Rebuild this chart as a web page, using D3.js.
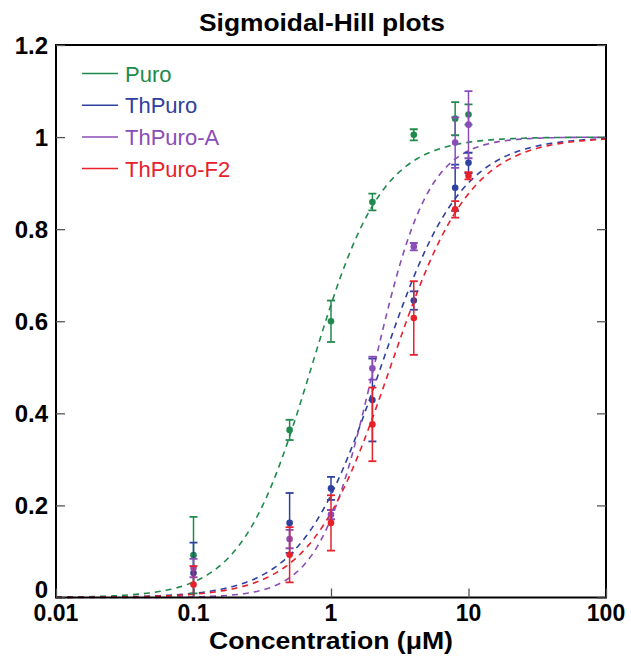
<!DOCTYPE html>
<html><head><meta charset="utf-8">
<script src="https://cdn.jsdelivr.net/npm/d3@7"></script>
<style>body{margin:0;background:#fff}svg{display:block}text{font-family:"Liberation Sans",Arial,sans-serif}</style>
</head><body><svg id="c" width="631" height="657"></svg>
<script>
const seriesNames = ["Puro","ThPuro","ThPuro-A","ThPuro-F2"];
const seriesColors = ["#1e8b4c","#2e40a0","#8a4cb8","#e8202a"];
const concentrations = [0.1,0.5,1,2,4,8,10];
const puroMean   = [0.092,0.364,0.600,0.859,1.005,1.040,1.049];
const puroErr    = [0.083,0.022,0.045,0.018,0.012,0.036,0.022];
const thPuroMean = [0.053,0.162,0.237,0.429,0.645,0.890,0.944];
const thPuroErr  = [0.066,0.065,0.025,0.090,0.020,0.050,0.022];
const thPuroAMean= [0.064,0.127,0.180,0.498,0.762,0.988,1.027];
const thPuroAErr = [0.020,0.020,0.010,0.025,0.008,0.055,0.073];
const thPuroF2Mean=[0.028,0.093,0.162,0.376,0.607,0.843,0.916];
const thPuroF2Err =[0.040,0.060,0.060,0.080,0.080,0.018,0.008];
// Hill fit parameters (EC50 in µM, Hill slope)
const fitEC50 = [0.72,2.3,2.05,2.7];
const fitHill = [1.7,1.5,2.2,1.5];
const xTicks = [0.01,0.1,1,10,100];
const yTicks = [0,0.2,0.4,0.6,0.8,1,1.2];

const means=[puroMean,thPuroMean,thPuroAMean,thPuroF2Mean];
const errs=[puroErr,thPuroErr,thPuroAErr,thPuroF2Err];

const svg=d3.select("#c");
const L=56,R=606,T=45,B=597.5;
const x=d3.scaleLog().domain([0.01,100]).range([L,R]);
const y=d3.scaleLinear().domain([0,1.2]).range([B,T]);

svg.append("text").attr("x",322).attr("y",31).attr("text-anchor","middle")
  .attr("font-size",24).attr("font-weight","bold").attr("textLength",246).attr("lengthAdjust","spacingAndGlyphs")
  .text("Sigmoidal-Hill plots");

// fit curves
const curveX=d3.range(-2,2.0001,0.02).map(e=>Math.pow(10,e));
const line=d3.line().x(d=>x(d[0])).y(d=>y(d[1]));
seriesNames.forEach((s,i)=>{
  const pts=curveX.map(c=>[c,Math.pow(c,fitHill[i])/(Math.pow(fitEC50[i],fitHill[i])+Math.pow(c,fitHill[i]))]);
  svg.append("path").datum(pts).attr("d",line).attr("fill","none")
    .attr("stroke",seriesColors[i]).attr("stroke-width",1.6).attr("stroke-dasharray","6,5");
});

// error bars and points
svg.append("clipPath").attr("id","clip").append("rect").attr("x",L).attr("y",T).attr("width",R-L).attr("height",B-T);
seriesNames.forEach((s,i)=>{
  const g=svg.append("g").attr("clip-path","url(#clip)");
  concentrations.forEach((c,j)=>{
    const cx=x(c),m=means[i][j],e=errs[i][j];
    g.append("line").attr("x1",cx).attr("x2",cx).attr("y1",y(m-e)).attr("y2",y(m+e))
      .attr("stroke",seriesColors[i]).attr("stroke-width",1.5);
    [m-e,m+e].forEach(v=>g.append("line").attr("x1",cx-4).attr("x2",cx+4).attr("y1",y(v)).attr("y2",y(v))
      .attr("stroke",seriesColors[i]).attr("stroke-width",1.8));
    g.append("circle").attr("cx",cx).attr("cy",y(m)).attr("r",3.3).attr("fill",seriesColors[i]);
  });
});

// frame
svg.append("rect").attr("x",L).attr("y",T).attr("width",R-L).attr("height",B-T)
  .attr("fill","none").attr("stroke","#000").attr("stroke-width",2);

// tick marks (inward)
const xa=svg.append("g").attr("transform",`translate(0,${B})`)
  .call(d3.axisTop(x).tickValues(xTicks).tickSize(9).tickFormat(""));
const ya=svg.append("g").attr("transform",`translate(${L},0)`)
  .call(d3.axisRight(y).tickValues(yTicks).tickSize(9).tickFormat(""));
const yr=svg.append("g").attr("transform",`translate(${R},0)`)
  .call(d3.axisLeft(y).tickValues(yTicks).tickSize(9).tickFormat(""));
[xa,ya,yr].forEach(g=>{g.select(".domain").remove();g.selectAll(".tick line").attr("stroke","#555").attr("stroke-width",1.3);});

// tick labels
svg.append("g").selectAll("text").data(xTicks).join("text")
  .attr("x",d=>x(d)).attr("y",621).attr("text-anchor","middle")
  .attr("font-size",23).attr("font-weight","bold").text(d=>String(d));
svg.append("g").selectAll("text").data(yTicks).join("text")
  .attr("x",L-8).attr("y",d=>d===0?y(d):y(d)+8.5).attr("text-anchor","end")
  .attr("font-size",24).attr("font-weight","bold").text(d=>String(d));

svg.append("text").attr("x",331).attr("y",649).attr("text-anchor","middle")
  .attr("font-size",23).attr("font-weight","bold").attr("textLength",244).attr("lengthAdjust","spacingAndGlyphs")
  .text("Concentration (μM)");

// legend
seriesNames.forEach((s,i)=>{
  const ly=73.5+i*31.7;
  svg.append("line").attr("x1",82).attr("x2",118).attr("y1",ly).attr("y2",ly)
    .attr("stroke",seriesColors[i]).attr("stroke-width",1.5);
  svg.append("text").attr("x",125).attr("y",ly+8).attr("font-size",22).attr("fill",seriesColors[i]).text(s);
});
</script></body></html>
